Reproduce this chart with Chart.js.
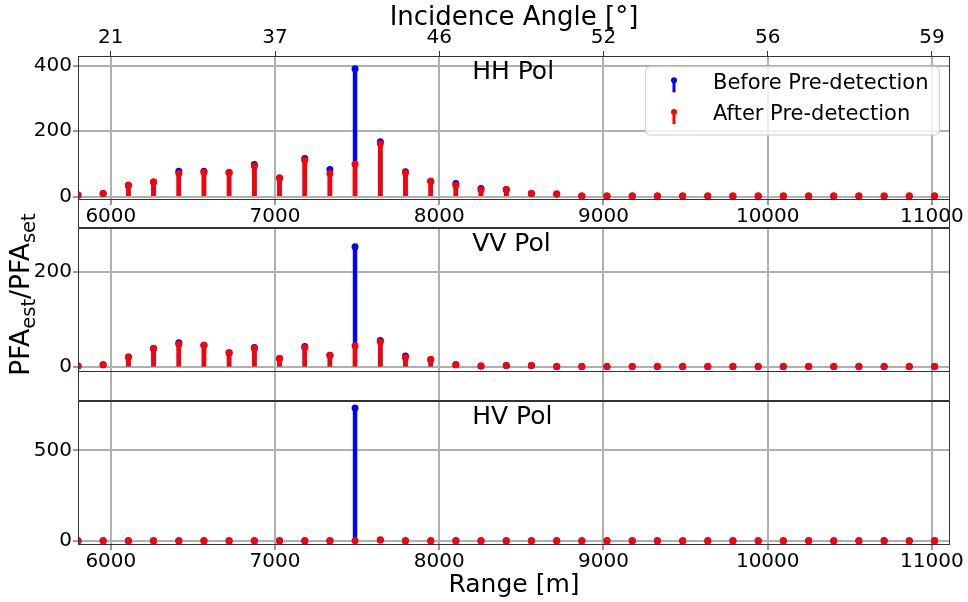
<!DOCTYPE html>
<html>
<head>
<meta charset="utf-8">
<script src="https://cdn.jsdelivr.net/npm/chart.js@4.4.0/dist/chart.umd.min.js"></script>
<style>
  html, body { margin: 0; padding: 0; background: #fff; }
  #wrap { position: relative; width: 968px; height: 602px; }
  #wrap canvas { position: absolute; left: 0; top: 0; }
</style>
</head>
<body>
<div id="wrap">
  <canvas id="hh" width="968" height="602"></canvas>
  <canvas id="vv" width="968" height="602"></canvas>
  <canvas id="hv" width="968" height="602"></canvas>
</div>
<script>
// range bins [m]
const rangeM = [5800, 5953, 6107, 6260, 6414, 6567, 6720, 6874, 7027, 7181, 7334, 7487,
  7641, 7794, 7948, 8101, 8254, 8408, 8561, 8715, 8868, 9021, 9175, 9328, 9482, 9635,
  9788, 9942, 10095, 10249, 10402, 10555, 10709, 10862, 11016];
const rangeTicks = [6000, 7000, 8000, 9000, 10000, 11000];
const angleTicks = ['21', '37', '46', '52', '56', '59'];

// PFA_est / PFA_set per polarisation
const hhBefore = [5, 10, 35, 45, 78, 78, 74, 98, 57, 117, 83, 391, 168, 76, 47, 40, 25, 22, 10, 8,
  2, 2, 2, 2, 2, 2, 2, 2, 2, 2, 2, 2, 2, 2, 2];
const hhAfter = [5, 10, 35, 45, 71, 75, 74, 94, 57, 111, 71, 99, 162, 73, 47, 35, 21, 22, 10, 8,
  2, 2, 2, 2, 2, 2, 2, 2, 2, 2, 2, 2, 2, 2, 2];
const vvBefore = [2, 5, 21, 39, 51, 46, 30, 41, 18, 43, 25, 253, 56, 23, 16, 5, 2, 3, 3,
  1, 1, 1, 1, 1, 1, 1, 1, 1, 1, 1, 1, 1, 1, 1, 1];
const vvAfter = [2, 5, 21, 39, 48, 46, 30, 39, 18, 41, 25, 45, 53, 20, 16, 5, 2, 3, 3,
  1, 1, 1, 1, 1, 1, 1, 1, 1, 1, 1, 1, 1, 1, 1, 1];
const hvBefore = [1, 1, 1, 1, 1, 1, 1, 1, 1, 1, 1, 733, 5,
  1, 1, 1, 1, 1, 1, 1, 1, 1, 1, 1, 1, 1, 1, 1, 1, 1, 1, 1, 1, 1, 1];
const hvAfter = [1, 1, 1, 1, 1, 1, 1, 1, 1, 1, 1, 1, 5,
  1, 1, 1, 1, 1, 1, 1, 1, 1, 1, 1, 1, 1, 1, 1, 1, 1, 1, 1, 1, 1, 1];

const BLUE = '#0000ff';
const RED = '#ff0000';
const GRID = '#b0b0b0';
const SPINE = '#333333';
const FONT = "'DejaVu Sans', sans-serif";

Chart.defaults.font.family = FONT;
Chart.defaults.color = '#000';

function stemData(values) {
  return rangeM.map((r, i) => ({ x: r, y: values[i] }));
}

// stem = thin bar + dot on top; red drawn over blue
function stemDatasets(before, after) {
  return [
    { type: 'scatter', label: 'After Pre-detection', data: stemData(after), backgroundColor: RED,
      pointRadius: 3.5, pointBorderWidth: 0, clip: 0, order: 0 },
    { type: 'bar', label: 'After stems', data: stemData(after), backgroundColor: RED,
      barThickness: 3.8, grouped: false, clip: 0, order: 1 },
    { type: 'scatter', label: 'Before Pre-detection', data: stemData(before), backgroundColor: BLUE,
      pointRadius: 3.5, pointBorderWidth: 0, clip: 0, order: 2 },
    { type: 'bar', label: 'Before stems', data: stemData(before), backgroundColor: BLUE,
      barThickness: 3.8, grouped: false, clip: 0, order: 3 }
  ];
}

// axes frame + the short side lines of the gap below a panel
const frameBand = {
  id: 'frameBand',
  afterDatasetsDraw(chart, args, opts) {
    const { ctx, chartArea: a } = chart;
    const l = Math.round(a.left) + 0.5, r = Math.round(a.right) - 0.5;
    const t = Math.round(a.top) + 0.5, b = Math.round(a.bottom) - 0.5;
    ctx.save();
    ctx.strokeStyle = SPINE;
    ctx.lineWidth = 1;
    ctx.strokeRect(l, t, r - l, b - t);
    if (opts.band) {
      ctx.beginPath();
      ctx.moveTo(l, b); ctx.lineTo(l, b + opts.band);
      ctx.moveTo(r, b); ctx.lineTo(r, b + opts.band);
      ctx.moveTo(l, b + opts.band); ctx.lineTo(r, b + opts.band);
      ctx.stroke();
    }
    ctx.restore();
  }
};

const panelLabel = {
  id: 'panelLabel',
  afterDraw(chart, args, opts) {
    const { ctx, chartArea: a } = chart;
    ctx.save();
    ctx.font = '25px ' + FONT;
    ctx.fillStyle = '#000';
    ctx.textBaseline = 'middle';
    ctx.fillText(opts.text, a.left + 0.452 * (a.right - a.left), a.top + 16);
    ctx.restore();
  }
};

const stemLegend = {
  id: 'stemLegend',
  afterDraw(chart, args, opts) {
    if (!opts.show) return;
    const { ctx, chartArea: a } = chart;
    const w = 293.6, h = 68.3;
    const x = a.right - 10.7 - w, y = a.top + 10.7;
    ctx.save();
    ctx.beginPath();
    ctx.roundRect(x, y, w, h, 4);
    ctx.fillStyle = 'rgba(255,255,255,0.8)';
    ctx.fill();
    ctx.strokeStyle = '#cccccc';
    ctx.lineWidth = 1;
    ctx.stroke();
    const items = [chart.data.datasets[2], chart.data.datasets[0]];
    items.forEach((ds, i) => {
      const cy = y + 16.6 + i * 31.7;
      const ix = x + 28.3;
      ctx.fillStyle = ds.backgroundColor;
      ctx.fillRect(ix - 1.5, cy - 3, 3, 12);
      ctx.beginPath();
      ctx.arc(ix, cy - 3, 3, 0, 2 * Math.PI);
      ctx.fill();
      ctx.fillStyle = '#000';
      ctx.font = '21px ' + FONT;
      ctx.textBaseline = 'middle';
      ctx.fillText(ds.label, x + 67.3, cy);
    });
    ctx.restore();
  }
};

// rotated y label with subscripts
const yLabel = {
  id: 'yLabel',
  afterDraw(chart, args, opts) {
    if (!opts.show) return;
    const ctx = chart.ctx;
    const parts = [['PFA', 26.5, 0], ['est', 19.5, 6], ['/PFA', 26.5, 0], ['set', 19.5, 6]];
    ctx.save();
    ctx.fillStyle = '#000';
    ctx.textBaseline = 'alphabetic';
    let total = 0;
    parts.forEach(p => { ctx.font = p[1] + 'px ' + FONT; total += ctx.measureText(p[0]).width; });
    ctx.translate(0, 294.5);
    ctx.rotate(-Math.PI / 2);
    let pos = -total / 2;
    parts.forEach(p => {
      ctx.font = p[1] + 'px ' + FONT;
      ctx.fillText(p[0], pos, 29.3 + p[2]);
      pos += ctx.measureText(p[0]).width;
    });
    ctx.restore();
  }
};

function xAxis(height, opts) {
  return {
    type: 'linear', position: 'bottom', min: 5800, max: 11110,
    offset: false,
    afterBuildTicks: s => { s.ticks = rangeTicks.map(v => ({ value: v })); },
    afterFit: s => { s.height = height; },
    grid: { offset: false, color: GRID, lineWidth: 2, tickColor: opts.tickColor || SPINE,
      tickWidth: opts.tickWidth || 1, tickLength: opts.tickLength || 5 },
    border: { display: false },
    ticks: { display: opts.labels, font: { size: 20 }, padding: 0, maxRotation: 0, autoSkip: false,
      callback: v => String(v) },
    title: opts.title || { display: false }
  };
}

function yAxis(min, max, ticks) {
  return {
    type: 'linear', min: min, max: max,
    afterBuildTicks: s => { s.ticks = ticks.map(v => ({ value: v })); },
    afterFit: s => { s.width = 78; },
    grid: { color: GRID, lineWidth: 2, tickColor: SPINE, tickWidth: 1, tickLength: 5 },
    border: { display: false },
    ticks: { font: { size: 20 }, padding: 1, callback: v => String(v) }
  };
}

function makePanel(id, before, after, scales, padding, extra) {
  return new Chart(document.getElementById(id), {
    type: 'scatter',
    data: { datasets: stemDatasets(before, after) },
    options: {
      responsive: false,
      animation: false,
      events: [],
      layout: { padding: padding },
      scales: scales,
      plugins: Object.assign({
        legend: { display: false },
        tooltip: { enabled: false }
      }, extra)
    },
    plugins: [frameBand, panelLabel, stemLegend, yLabel]
  });
}

// HH panel with the incidence angle axis on top
makePanel('hh', hhBefore, hhAfter, {
  x: xAxis(28, { labels: true }),
  x2: {
    type: 'linear', position: 'top', min: 5800, max: 11110,
    offset: false,
    afterBuildTicks: s => { s.ticks = rangeTicks.map(v => ({ value: v })); },
    afterFit: s => { s.height = 56; },
    grid: { offset: false, drawOnChartArea: false, color: SPINE, tickLength: 5, lineWidth: 1 },
    border: { display: false },
    ticks: { font: { size: 20 }, padding: 1, maxRotation: 0, autoSkip: false,
      callback: (v, i) => angleTicks[i] },
    title: { display: true, text: 'Incidence Angle [°]', font: { size: 26 }, padding: { top: 3, bottom: 0 } }
  },
  y: yAxis(-10.1, 429.6, [0, 200, 400])
}, { top: 0, bottom: 374, left: 0, right: 18 }, {
  frameBand: { band: 28 },
  panelLabel: { text: 'HH Pol' },
  stemLegend: { show: true },
  yLabel: { show: false }
});

// VV panel
makePanel('vv', vvBefore, vvAfter, {
  x: xAxis(29, { labels: false, tickColor: GRID, tickWidth: 2, tickLength: 29 }),
  y: yAxis(-10.5, 292.7, [0, 200])
}, { top: 228, bottom: 201, left: 0, right: 18 }, {
  frameBand: { band: 29 },
  panelLabel: { text: 'VV Pol' },
  stemLegend: { show: false },
  yLabel: { show: true }
});

// HV panel with range axis
makePanel('hv', hvBefore, hvAfter, {
  x: xAxis(57, { labels: true, title: { display: true, text: 'Range [m]', font: { size: 25 },
    padding: { top: 0, bottom: 2 } } }),
  y: yAxis(-22, 771.8, [0, 500])
}, { top: 401, bottom: 0, left: 0, right: 18 }, {
  frameBand: { band: 0 },
  panelLabel: { text: 'HV Pol' },
  stemLegend: { show: false },
  yLabel: { show: false }
});
</script>
</body>
</html>
